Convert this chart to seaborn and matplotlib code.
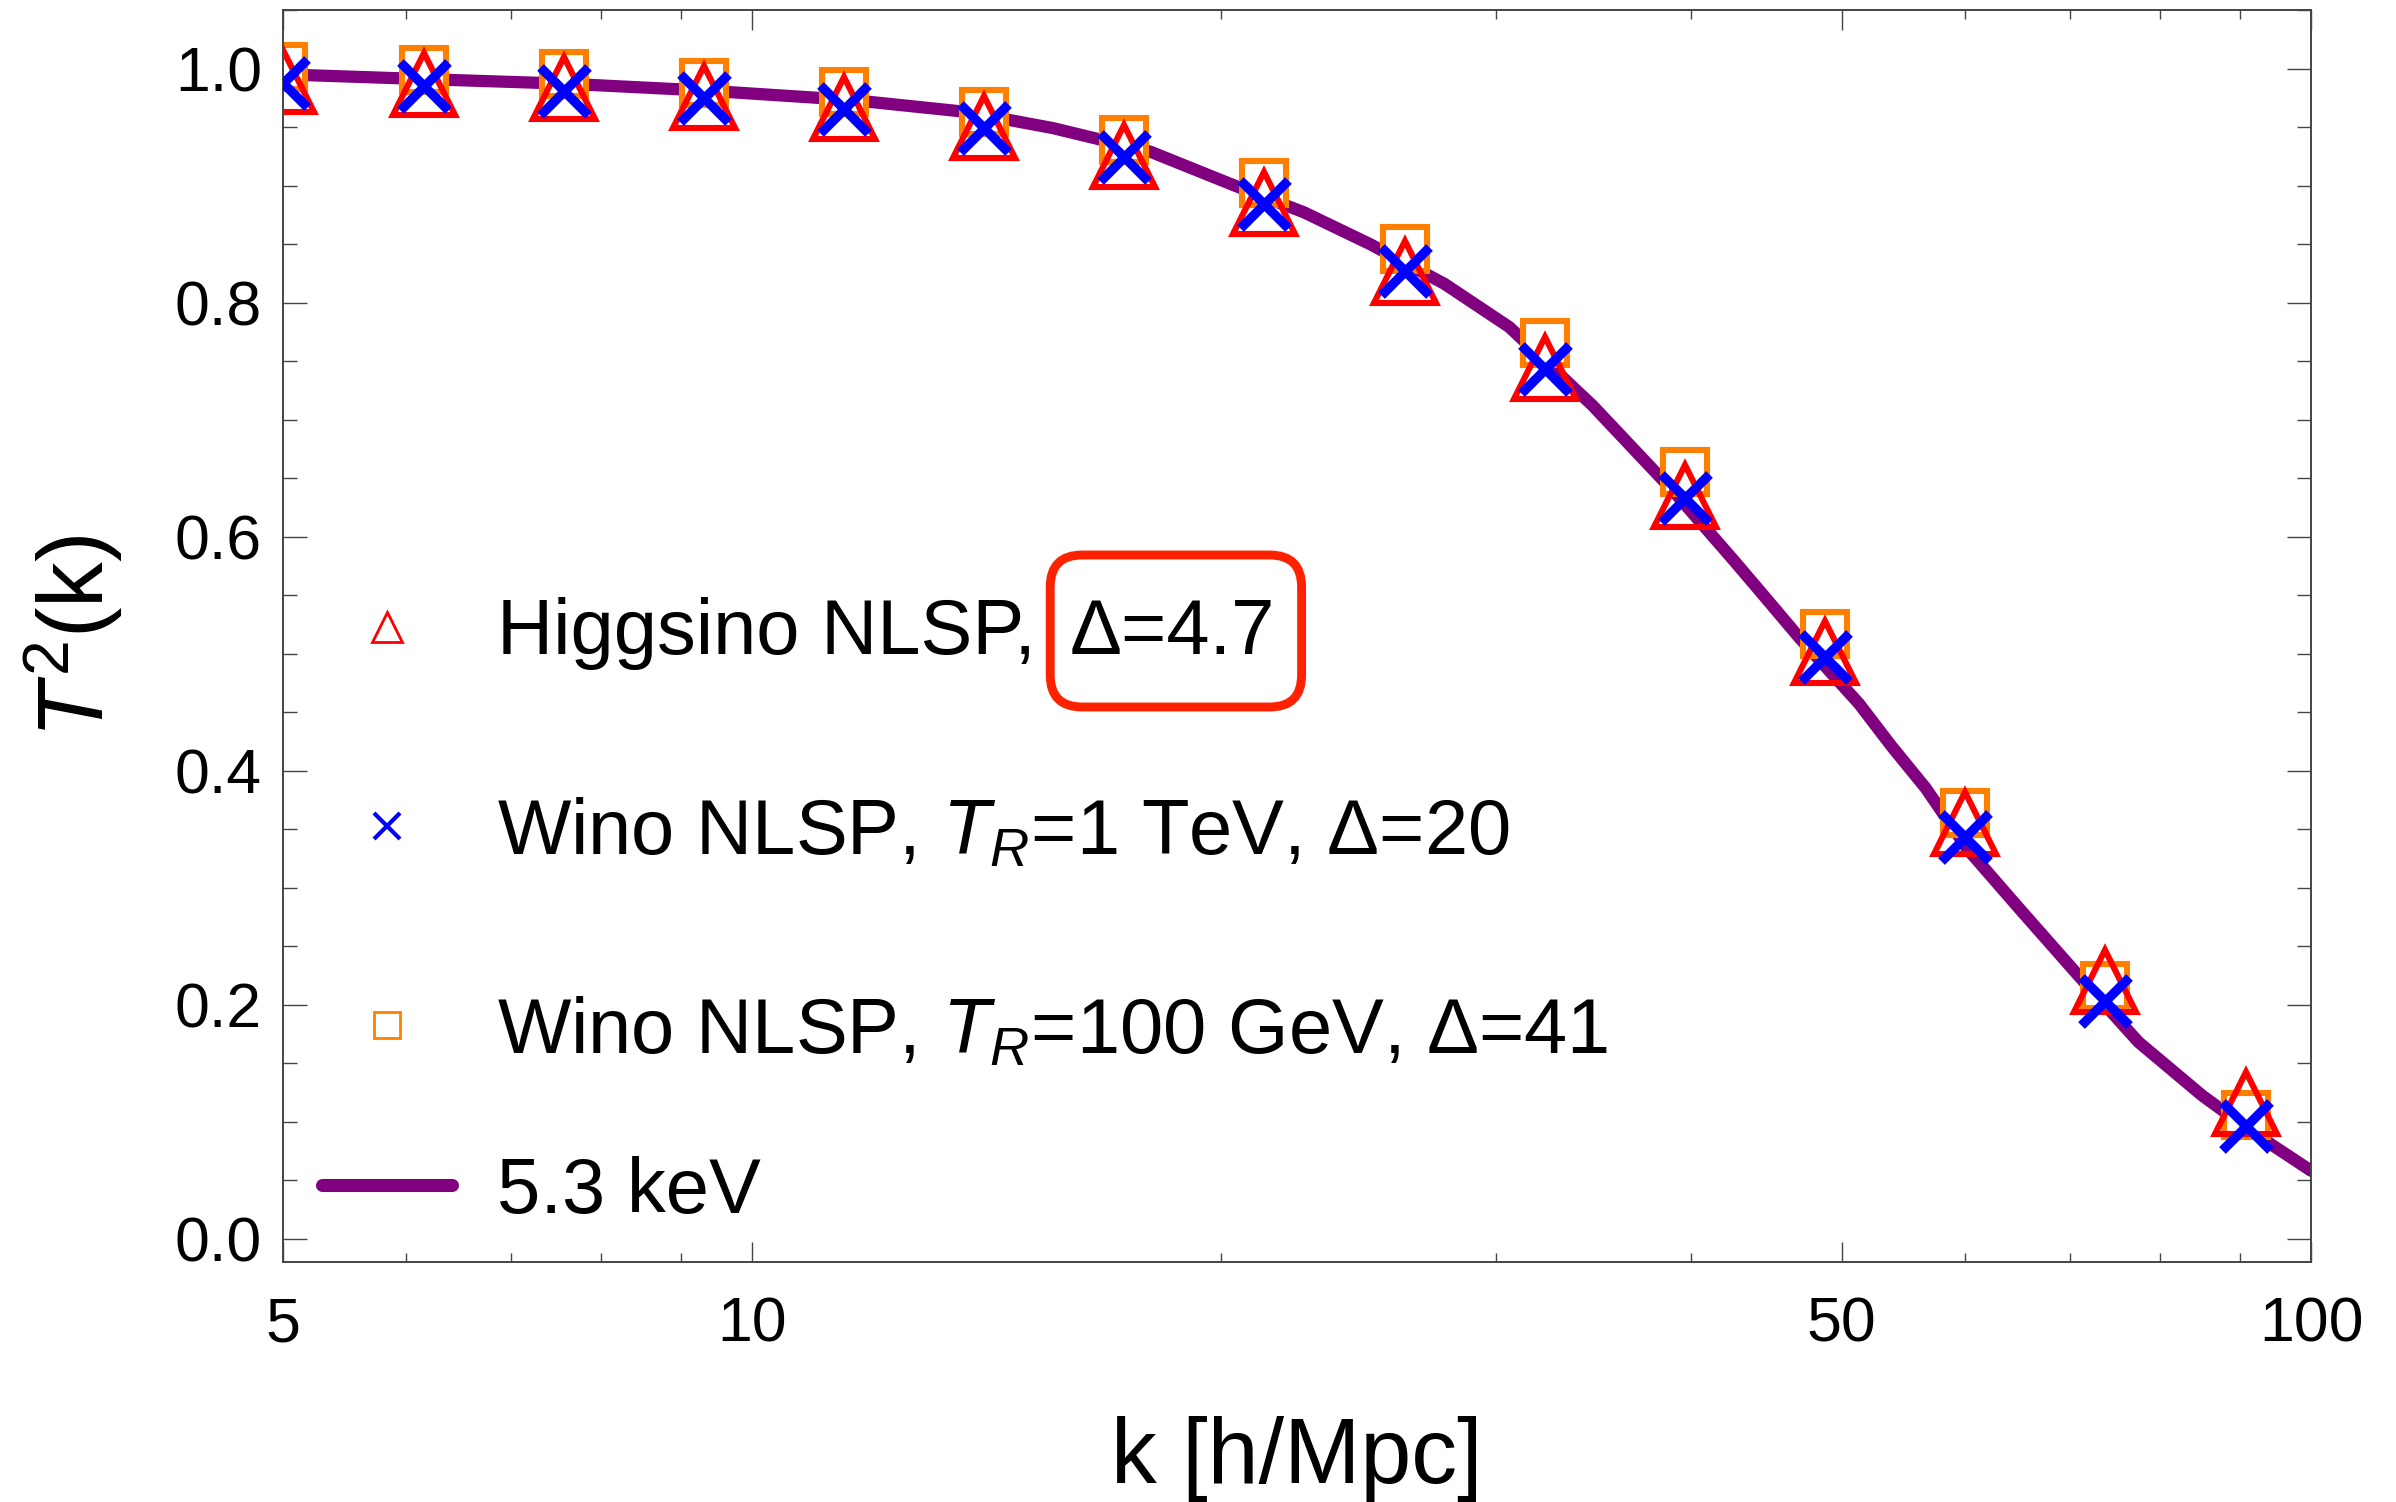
import matplotlib
matplotlib.use("Agg")
import numpy as np
import pandas as pd
import seaborn as sns
import matplotlib.pyplot as plt
from matplotlib.lines import Line2D
from matplotlib.patches import FancyBboxPatch
from matplotlib.transforms import IdentityTransform
from matplotlib.ticker import FixedLocator, NullFormatter, MultipleLocator

# k values of the marker points [h/Mpc]
k_pts = [5.0, 6.16, 7.57, 9.31, 11.46, 14.09, 17.33, 21.31, 26.23, 32.27,
         39.65, 48.80, 59.95, 73.8, 90.8]
# T^2(k) for each model
t2_higgsino = [0.989, 0.987, 0.983, 0.976, 0.966, 0.950, 0.925, 0.885, 0.826,
               0.744, 0.635, 0.501, 0.355, 0.220, 0.116]
t2_wino_1tev = [0.988, 0.985, 0.981, 0.975, 0.965, 0.949, 0.924, 0.884, 0.827,
                0.743, 0.633, 0.497, 0.343, 0.203, 0.096]
t2_wino_100gev = [1.001, 0.999, 0.995, 0.988, 0.980, 0.963, 0.939, 0.902, 0.846,
                  0.765, 0.655, 0.517, 0.364, 0.216, 0.106]

# thermal WDM reference curve, 5.3 keV
k_curve = [5.0, 6.14, 7.6, 9.37, 11.6, 13.7, 15.6, 18.0, 20.3, 22.6, 24.9, 27.8,
           30.6, 34.6, 39.1, 42.6, 44.2, 47.0, 48.8, 51.3, 53.8, 56.6, 60.2, 64.9,
           70.9, 77.5, 85.2, 91.5, 100.0]
t2_curve = [0.995, 0.991, 0.987, 0.981, 0.973, 0.963, 0.949, 0.929, 0.901, 0.877,
            0.850, 0.816, 0.779, 0.712, 0.637, 0.580, 0.555, 0.513, 0.489, 0.457,
            0.421, 0.385, 0.333, 0.283, 0.225, 0.168, 0.122, 0.092, 0.058]

x_major = [5, 10, 50, 100]
x_major_labels = ["5", "10", "50", "100"]
x_minor = [6, 7, 8, 9, 20, 30, 40, 60, 70, 80, 90]
y_major = [0.0, 0.2, 0.4, 0.6, 0.8, 1.0]
y_major_labels = ["0.0", "0.2", "0.4", "0.6", "0.8", "1.0"]

labels = ["Higgsino NLSP,",
          "Wino NLSP, $T_R$=1 TeV, \u0394=20",
          "Wino NLSP, $T_R$=100 GeV, \u0394=41"]
boxed_label = "\u0394=4.7"
line_label = "5.3 keV"

RED, BLUE, ORANGE, PURPLE = "#ff0000", "#0000ff", "#ff8000", "#800080"
FRAME = "#444444"

sns.set_theme(style="ticks")
plt.rcParams.update({
    "mathtext.fontset": "custom",
    "mathtext.rm": "Liberation Sans",
    "mathtext.it": "Liberation Sans:italic",
    "mathtext.bf": "Liberation Sans:bold",
    "axes.edgecolor": FRAME,
    "axes.linewidth": 0.7,
    "text.color": "black",
    "axes.labelcolor": "black",
})
plt.rcParams["font.family"] = ["Liberation Sans", "DejaVu Sans"]

W, H = 2396, 1502
fig = plt.figure(figsize=(W / 200, H / 200), dpi=200)
ax = fig.add_axes([283 / W, 1 - 1262 / H, (2311 - 283) / W, (1262 - 10) / H])

curve = pd.DataFrame({"k": k_curve, "T2": t2_curve})
sns.lineplot(data=curve, x="k", y="T2", color=PURPLE, lw=4.4, ax=ax, zorder=1,
             solid_joinstyle="round")

sns.lineplot(x=k_pts, y=t2_wino_100gev, ls="none", marker="s", ms=15.8, mew=2.2,
             mfc="white", mec=ORANGE, ax=ax, zorder=2)
sns.lineplot(x=k_pts, y=t2_higgsino, ls="none", marker="^", ms=22.5, mew=2.2,
             mfc="none", mec=RED, ax=ax, zorder=3)
sns.lineplot(x=k_pts, y=t2_wino_1tev, ls="none", marker="x", ms=17, mew=3.4,
             mec=BLUE, color=BLUE, ax=ax, zorder=4)

ax.set_xscale("log")
ax.set_xlim(5, 100)
ax.set_ylim(-0.02, 1.05)
ax.set_xticks(x_major)
ax.set_xticklabels(x_major_labels)
ax.xaxis.set_minor_locator(FixedLocator(x_minor))
ax.xaxis.set_minor_formatter(NullFormatter())
ax.set_yticks(y_major)
ax.set_yticklabels(y_major_labels)
ax.yaxis.set_minor_locator(MultipleLocator(0.05))

ax.tick_params(which="both", direction="in", top=True, right=True,
               color=FRAME, width=0.5, labelsize=22.5, labelcolor="black")
ax.tick_params(axis="y", which="major", length=8.6, pad=7.6)
ax.tick_params(axis="y", which="minor", length=5)
ax.tick_params(axis="x", which="major", length=7.2, pad=12)
ax.tick_params(axis="x", which="minor", length=3.4)

ax.set_xlabel("k [h/Mpc]", fontsize=33, color="black")
ax.set_ylabel("$T^2$(k)", fontsize=33, color="black")
ax.xaxis.set_label_coords(0.5, -0.123)
ax.yaxis.set_label_coords(-0.078, 0.5)

handles = [
    Line2D([], [], ls="none", marker="^", ms=11, mew=1.0, mfc="white", mec=RED),
    Line2D([], [], ls="none", marker="x", ms=9.5, mew=1.5, color=BLUE),
    Line2D([], [], ls="none", marker="s", ms=9.5, mew=1.0, mfc="white", mec=ORANGE),
]
leg_kw = dict(fontsize=28, handlelength=1.67, handletextpad=0.58, borderpad=0,
              borderaxespad=0, frameon=False, loc="center left",
              bbox_transform=fig.transFigure, labelcolor="black")
leg1 = ax.legend(handles, labels, labelspacing=1.62,
                 bbox_to_anchor=(322 / W, 1 - 833 / H), **leg_kw)
ax.add_artist(leg1)
leg2 = ax.legend([Line2D([], [], color=PURPLE, lw=4.7)], [line_label],
                 bbox_to_anchor=(322 / W, 1 - 1192 / H), **leg_kw)

# the highlighted "Δ=4.7" part of the first legend entry
boxed = ax.annotate(boxed_label, xy=(1, 0), xycoords=leg1.get_texts()[0],
                    xytext=(12, 0), textcoords="offset points", ha="left",
                    va="bottom", fontsize=28, color="black", zorder=10)

# rounded red frame around it (pixel coordinates, taller than wide padding)
fig.canvas.draw()
bb = boxed.get_window_extent()
bx0, bx1 = bb.x0 - 19, bb.x1 + 27
by_c = (bb.y0 + bb.y1) / 2 + 3
frame = FancyBboxPatch((bx0, by_c - 76), bx1 - bx0, 152,
                       boxstyle="round,pad=0,rounding_size=32",
                       transform=IdentityTransform(), fc="none",
                       ec="#ff2200", lw=3.2, zorder=10)
fig.add_artist(frame)

fig.savefig("out.png", dpi=200)
